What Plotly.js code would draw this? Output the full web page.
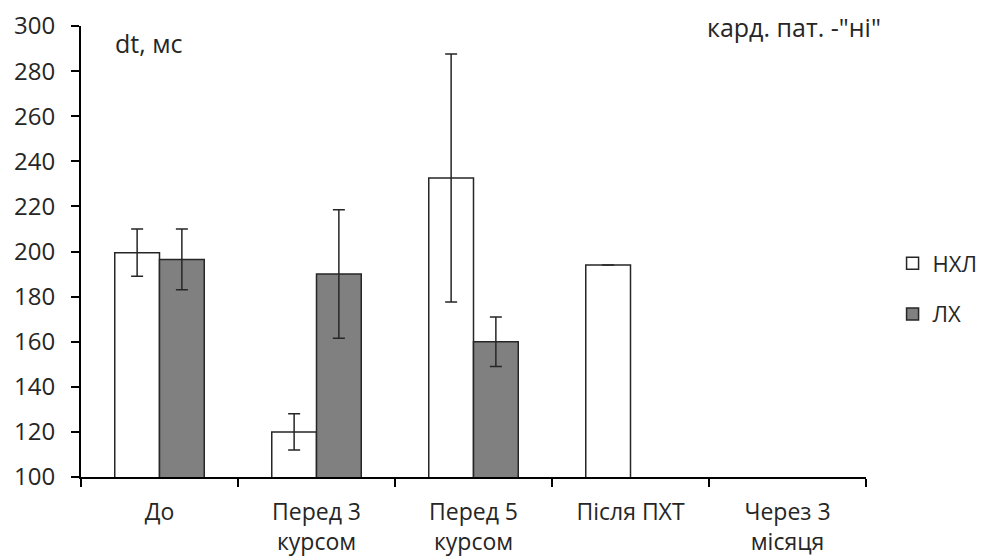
<!DOCTYPE html>
<html>
<head>
<meta charset="utf-8">
<script src="https://cdn.plot.ly/plotly-3.0.1.min.js"></script>
<style>html,body{margin:0;padding:0;background:#fff;}#chart{width:983px;height:559px;}</style>
</head>
<body>
<div id="chart"></div>
<script>
var categories = ["До", "Перед 3<br>курсом", "Перед 5<br>курсом", "Після ПХТ", "Через 3<br>місяця"];
var nhlValues = [199.5, 120, 232.6, 194, null];
var nhlErrors = [10.5, 8, 55, null, null];
var lhValues = [196.5, 190, 160, null, null];
var lhErrors = [13.5, 28.5, 11, null, null];
var seriesNames = ["НХЛ", "ЛХ"];
var yTicks = [100, 120, 140, 160, 180, 200, 220, 240, 260, 280, 300];

var font = "Open Sans, Noto Sans, sans-serif";
var txtColor = "#262626";

var traces = [
  {
    type: "bar", name: seriesNames[0], x: categories, y: nhlValues,
    marker: {color: "#ffffff", line: {color: "#262626", width: 1.5}},
    error_y: {type: "data", array: nhlErrors, visible: true, color: "#262626", thickness: 1.5, width: 6},
    legendgroup: "a"
  },
  {
    type: "bar", name: seriesNames[1], x: categories, y: lhValues,
    marker: {color: "#808080", line: {color: "#262626", width: 1.5}},
    error_y: {type: "data", array: lhErrors, visible: true, color: "#262626", thickness: 1.5, width: 6},
    legendgroup: "b"
  }
];

var layout = {
  width: 983, height: 559,
  margin: {l: 81, r: 117, t: 26, b: 82},
  paper_bgcolor: "#ffffff", plot_bgcolor: "#ffffff",
  font: {family: font, size: 23, color: txtColor},
  barmode: "group", bargap: 0.43, bargroupgap: 0,
  showlegend: true,
  legend: {xref: "container", yref: "container", x: 0.908, y: 0.483, xanchor: "left", yanchor: "middle",
           font: {size: 22, color: txtColor},
           tracegroupgap: 19, traceorder: "grouped", itemwidth: 30, bgcolor: "rgba(0,0,0,0)"},
  xaxis: {
    type: "category", showline: true, linecolor: "#000", linewidth: 2,
    ticks: "outside", ticklen: 8, tickwidth: 2, tickcolor: "#000", tickson: "boundaries",
    showgrid: false, zeroline: false, tickfont: {size: 23, color: txtColor}, ticklabelstandoff: 13,
    automargin: false
  },
  yaxis: {
    range: [100, 300], tickvals: yTicks, showline: true, linecolor: "#000", linewidth: 2,
    ticks: "outside", ticklen: 8, tickwidth: 2, tickcolor: "#000",
    showgrid: false, zeroline: false, tickfont: {size: 24, color: txtColor}, ticklabelstandoff: 11,
    automargin: false
  },
  annotations: [
    {text: "dt, мс", xref: "paper", yref: "paper", x: 0.041, y: 0.962, xanchor: "left", yanchor: "middle",
     showarrow: false, font: {size: 25, color: txtColor}},
    {text: "кард. пат. -\"ні\"", xref: "paper", yref: "paper", x: 1.022, y: 0.998, xanchor: "right", yanchor: "middle",
     showarrow: false, font: {size: 25, color: txtColor}}
  ]
};

Plotly.newPlot("chart", traces, layout, {displayModeBar: false, staticPlot: true});
</script>
</body>
</html>
